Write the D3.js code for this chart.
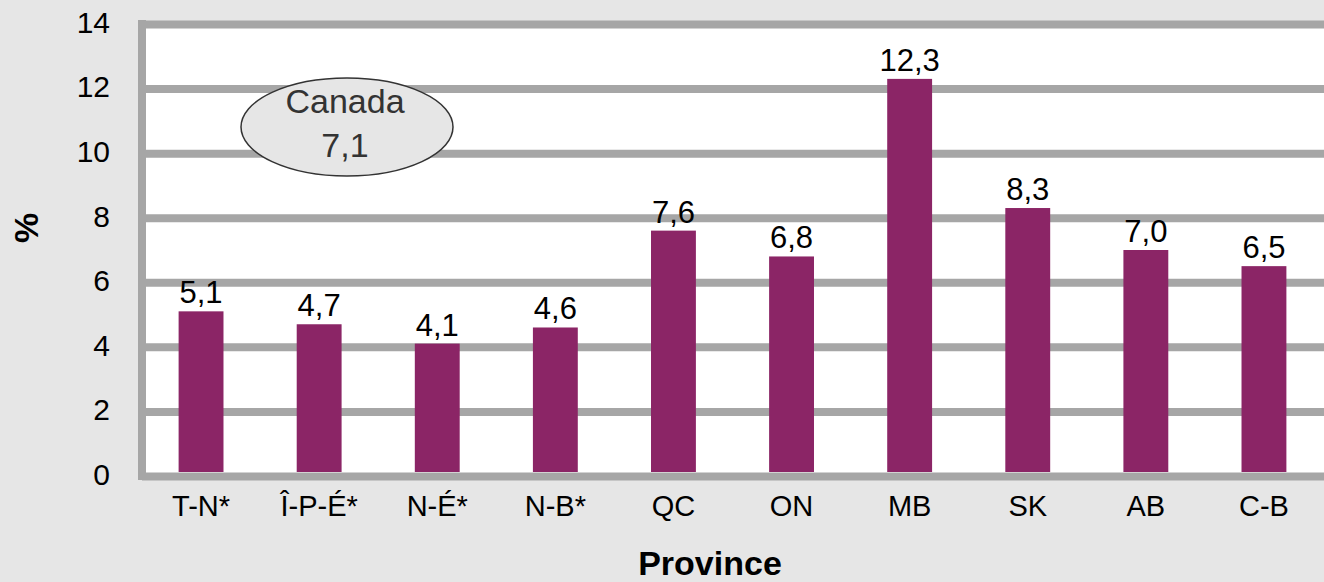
<!DOCTYPE html>
<html>
<head>
<meta charset="utf-8">
<script src="https://cdn.jsdelivr.net/npm/d3@7"></script>
<style>
  body { margin: 0; background: #e6e6e6; }
  svg { display: block; font-family: "Liberation Sans", Arial, sans-serif; }
</style>
</head>
<body>
<div id="chart"></div>
<script>
const w = 1324;
const h = 582;

const provinces = ["T-N*", "Î-P-É*", "N-É*", "N-B*", "QC", "ON", "MB", "SK", "AB", "C-B"];
const values = [5.1, 4.7, 4.1, 4.6, 7.6, 6.8, 12.3, 8.3, 7.0, 6.5];
const yTicks = [0, 2, 4, 6, 8, 10, 12, 14];
const canadaLabel = "Canada";
const canadaValue = 7.1;

const fmt = v => v.toFixed(1).replace(".", ",");

const plotLeft = 142, plotRight = 1323, plotTop = 24, plotBottom = 476;

const x = d3.scaleBand().domain(provinces).range([plotLeft, plotRight]).paddingInner(0.62).paddingOuter(0.31);
const y = d3.scaleLinear().domain([0, 14]).range([plotBottom, plotTop]);

const svg = d3.select("#chart").append("svg").attr("width", w).attr("height", h);

svg.append("rect").attr("width", w).attr("height", h).attr("fill", "#e6e6e6");

// plot area
svg.append("rect")
  .attr("x", plotLeft).attr("y", plotTop)
  .attr("width", w - plotLeft).attr("height", plotBottom - plotTop)
  .attr("fill", "#ffffff");

// gridlines
svg.append("g")
  .attr("transform", "translate(" + plotLeft + ",0)")
  .call(d3.axisLeft(y).tickValues(yTicks).tickSize(-(w - plotLeft)).tickFormat(""))
  .call(g => g.select(".domain").remove())
  .call(g => g.selectAll("line").attr("stroke", "#a6a6a6").attr("stroke-width", 8));

// left axis line
svg.append("line")
  .attr("x1", plotLeft).attr("x2", plotLeft)
  .attr("y1", plotTop - 4).attr("y2", plotBottom + 4)
  .attr("stroke", "#a6a6a6").attr("stroke-width", 8);

// y tick labels
svg.append("g")
  .attr("transform", "translate(110,0)")
  .call(d3.axisLeft(y).tickValues(yTicks).tickSize(0).tickPadding(0))
  .call(g => g.select(".domain").remove())
  .call(g => g.selectAll("text")
    .attr("font-size", "30px").attr("fill", "#000")
    .attr("font-family", "Liberation Sans, Arial, sans-serif")
    .attr("dy", "0.28em"));

// bars
svg.selectAll("rect.bar").data(values).enter().append("rect")
  .attr("class", "bar")
  .attr("x", (d, i) => x(provinces[i]))
  .attr("y", d => y(d))
  .attr("width", x.bandwidth())
  .attr("height", d => y(0) - y(d) - 4)
  .attr("fill", "#8b2566");

// value labels
svg.selectAll("text.val").data(values).enter().append("text")
  .attr("class", "val")
  .attr("x", (d, i) => x(provinces[i]) + x.bandwidth() / 2)
  .attr("y", d => y(d) - 8)
  .attr("text-anchor", "middle")
  .attr("font-size", "31px")
  .attr("fill", "#000")
  .text(d => fmt(d));

// x labels
svg.append("g")
  .attr("transform", "translate(0," + (plotBottom + 4) + ")")
  .call(d3.axisBottom(x).tickSize(0).tickPadding(0))
  .call(g => g.select(".domain").remove())
  .call(g => g.selectAll("text")
    .attr("font-size", "29px").attr("fill", "#000")
    .attr("font-family", "Liberation Sans, Arial, sans-serif")
    .attr("dy", null)
    .attr("y", 36));

// Canada ellipse
svg.append("ellipse")
  .attr("cx", 347).attr("cy", 127)
  .attr("rx", 106).attr("ry", 49)
  .attr("fill", "#e6e6e6")
  .attr("stroke", "#333").attr("stroke-width", 1.5);

svg.append("text")
  .attr("x", 345).attr("y", 113)
  .attr("text-anchor", "middle")
  .attr("font-size", "34px").attr("fill", "#333")
  .text(canadaLabel);

svg.append("text")
  .attr("x", 345).attr("y", 157)
  .attr("text-anchor", "middle")
  .attr("font-size", "34px").attr("fill", "#333")
  .text(fmt(canadaValue));

// axis titles
svg.append("text")
  .attr("x", 710).attr("y", 575)
  .attr("text-anchor", "middle")
  .attr("font-size", "34px").attr("font-weight", "bold")
  .text("Province");

svg.append("text")
  .attr("text-anchor", "middle")
  .attr("transform", "translate(38,228)rotate(-90)")
  .attr("font-size", "34px").attr("font-weight", "bold")
  .text("%");
</script>
</body>
</html>
